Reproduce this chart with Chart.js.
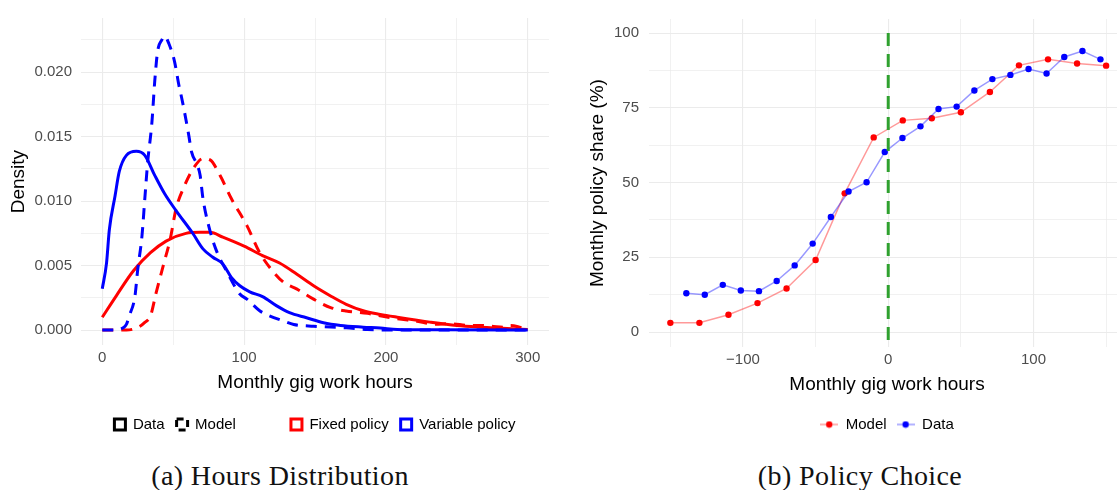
<!DOCTYPE html>
<html lang="en">
<head>
<meta charset="UTF-8" />
<title>Hours distribution and policy choice</title>
<script src="https://cdn.jsdelivr.net/npm/chart.js"></script>
<style>
  body { margin: 0; width: 1117px; height: 490px; background: #fff; position: relative; overflow: hidden; }
  .panel { position: absolute; top: 0; height: 450px; }
  .caption {
    position: absolute; top: 462px; width: 400px; text-align: center;
    font-family: "Liberation Serif", "DejaVu Serif", serif; font-size: 28px; line-height: 28px;
    letter-spacing: 0.4px; color: #111;
  }
</style>
</head>
<body>
<div class="panel" style="left:0;width:558px"><canvas id="hoursChart"></canvas></div>
<!-- the right panel runs a little past the page edge, as in the cropped original -->
<div class="panel" style="left:558px;width:579px"><canvas id="policyChart"></canvas></div>
<div class="caption" style="left:80px">(a) Hours Distribution</div>
<div class="caption" style="left:660px">(b) Policy Choice</div>
<script>
// ---- (a) hours distribution: density curves ----
const fixedDataHours = [0, 10, 22, 34, 45, 59, 69, 76, 85, 100, 113, 125, 137, 149, 161, 172, 184, 196, 208, 231, 250, 267, 300];
const fixedDataDensity = [0.00100, 0.00268, 0.00460, 0.00600, 0.00690, 0.00750, 0.00758, 0.00758, 0.00721, 0.00651, 0.00578, 0.00520, 0.00435, 0.00344, 0.00265, 0.00200, 0.00150, 0.00122, 0.00100, 0.00062, 0.00036, 0.00023, 0.00005];

const fixedModelHours = [0, 17, 26, 30, 34, 38, 43, 48, 52, 58, 64, 71, 76, 83, 91, 102, 111, 120, 128, 137, 149, 161, 172, 187, 194, 208, 222, 235, 245, 259, 267, 276, 283, 288, 295, 300];
const fixedModelDensity = [0, 0, 0.00026, 0.0006, 0.0011, 0.0029, 0.0050, 0.0071, 0.0094, 0.0112, 0.0125, 0.0133, 0.0132, 0.0120, 0.0102, 0.0081, 0.0060, 0.0046, 0.0037, 0.0032, 0.0024, 0.00175, 0.00148, 0.0013, 0.00115, 0.00089, 0.00068, 0.00045, 0.0005, 0.00036, 0.00036, 0.00028, 0.00023, 0.00036, 0.0002, 0.00005];

const variableDataHours = [0, 3, 5, 9, 12, 17, 24, 30, 37, 44, 52, 64, 71, 78, 85, 91, 97, 104, 113, 123, 132, 144, 156, 168, 184, 196, 208, 240, 300];
const variableDataDensity = [0.0032, 0.0052, 0.0078, 0.0104, 0.0123, 0.01355, 0.01386, 0.01355, 0.0120, 0.01057, 0.00927, 0.00747, 0.0063, 0.00565, 0.00513, 0.00409, 0.00344, 0.00297, 0.0026, 0.00188, 0.00135, 0.00096, 0.00057, 0.00036, 0.00023, 0.00016, 0.00005, 0.00002, 0];

const variableModelHours = [0, 8, 15, 17, 19, 23, 25, 28, 30, 32, 35, 37, 39, 42, 44, 47, 51, 54, 56, 58, 61, 63, 67, 69, 71, 75, 80, 88, 97, 102, 111, 116, 128, 135, 149, 172, 187, 210, 300];
const variableModelDensity = [0, 0, 0.0002, 0.00044, 0.0011, 0.0026, 0.0047, 0.0073, 0.0102, 0.0130, 0.0161, 0.0193, 0.0216, 0.0225, 0.0228, 0.0222, 0.0208, 0.0190, 0.0180, 0.0169, 0.0151, 0.0138, 0.0128, 0.0120, 0.0102, 0.0081, 0.0063, 0.0045, 0.0028, 0.0024, 0.0015, 0.0012, 0.0007, 0.00044, 0.0003, 0.00018, 0.00005, 0, 0];

// ---- (b) policy choice ----
const modelHours = [-150, -130, -110, -90, -70, -50, -30, -10, 10, 30, 50, 70, 90, 110, 130, 150];
const modelShare = [3.1, 3.1, 5.8, 9.7, 14.6, 24.1, 46.4, 65.1, 70.8, 71.5, 73.5, 80.3, 89.2, 91.2, 89.8, 89.1];
const dataHours = [-139, -126.3, -113.9, -101.5, -89, -76.8, -64.4, -52, -39.5, -27.3, -14.9, -2.4, 9.8, 22.2, 34.6, 47.1, 59.3, 71.7, 84.1, 96.6, 109, 121.2, 133.7, 146.1];
const dataShare = [13.0, 12.5, 15.8, 13.9, 13.7, 17.1, 22.3, 29.6, 38.5, 47.0, 50.1, 60.2, 64.9, 68.8, 74.6, 75.4, 80.8, 84.6, 86.0, 88.0, 86.5, 92.0, 94.0, 91.2];
const thresholdHours = 0;
const thresholdSpan = [100, -5]; // drawn top-down so the dash pattern starts at 100

const zip = (xs, ys) => xs.map((x, i) => ({ x: x, y: ys[i] }));
const isMultiple = (v, step) => Math.abs(v / step - Math.round(v / step)) < 1e-6;
const minus = v => (v < 0 ? "\u2212" + Math.abs(v) : String(v));

Chart.defaults.font.family = "'Liberation Sans', Arial, sans-serif";
Chart.defaults.font.size = 15;
Chart.defaults.color = "#4d4d4d";
Chart.defaults.animation = false;
Chart.defaults.plugins.tooltip.enabled = false;

const GRID = "#ebebeb";
const gridOpts = major => ({
  color: GRID,
  drawTicks: false,
  lineWidth: ctx => (ctx.tick && isMultiple(ctx.tick.value, major) ? 1.1 : 0.7),
});
const titleFont = { size: 19 };
const xTitlePad = { top: 0, bottom: 11 };

function curve(label, hours, dens, color, dashed) {
  return {
    label: label,
    data: zip(hours, dens),
    borderColor: color,
    borderWidth: 3,
    borderDash: dashed ? [11, 8] : [],
    pointRadius: 0,
    cubicInterpolationMode: "monotone",
    fill: false,
  };
}

const clear = "rgba(0,0,0,0)";
new Chart(document.getElementById("hoursChart"), {
  type: "line",
  data: {
    datasets: [
      curve("Variable policy model", variableModelHours, variableModelDensity, "#0000ff", true),
      curve("Variable policy data", variableDataHours, variableDataDensity, "#0000ff", false),
      curve("Fixed policy model", fixedModelHours, fixedModelDensity, "#ff0000", true),
      curve("Fixed policy data", fixedDataHours, fixedDataDensity, "#ff0000", false),
    ],
  },
  options: {
    responsive: true,
    maintainAspectRatio: false,
    layout: { autoPadding: false, padding: { top: 17, left: 0, right: 9, bottom: 8 } },
    scales: {
      x: {
        type: "linear",
        min: -15,
        max: 315,
        ticks: { stepSize: 50, includeBounds: false, padding: 4, maxRotation: 0, autoSkip: false, callback: v => (isMultiple(v, 100) ? String(v) : "") },
        grid: gridOpts(100),
        border: { display: false },
        title: { display: true, text: "Monthly gig work hours", color: "#000", font: titleFont, padding: xTitlePad },
      },
      y: {
        type: "linear",
        min: -0.00117,
        max: 0.0242,
        afterFit: s => { s.width = 81; },
        ticks: { stepSize: 0.0025, includeBounds: false, maxTicksLimit: 100, padding: 9, callback: v => (isMultiple(v, 0.005) ? v.toFixed(3) : "") },
        grid: gridOpts(0.005),
        border: { display: false },
        title: { display: true, text: "Density", color: "#000", font: titleFont, padding: { top: 7.6, bottom: 0 } },
      },
    },
    plugins: {
      legend: {
        position: "bottom",
        fullSize: false,
        onClick: () => {},
        labels: {
          color: "#000",
          padding: 12,
          boxWidth: 11,
          boxHeight: 11,
          generateLabels: () => [
            { text: "Data", fillStyle: clear, strokeStyle: "#000", lineWidth: 3, lineDash: [], hidden: false },
            { text: "Model", fillStyle: clear, strokeStyle: "#000", lineWidth: 3, lineDash: [7, 5], hidden: false },
            { text: "   ", fillStyle: clear, strokeStyle: clear, lineWidth: 0, hidden: false },
            { text: "Fixed policy", fillStyle: clear, strokeStyle: "#ff0000", lineWidth: 3, lineDash: [], hidden: false },
            { text: "Variable policy", fillStyle: clear, strokeStyle: "#0000ff", lineWidth: 3, lineDash: [], hidden: false },
          ],
        },
      },
    },
  },
});

// legend key: faint line with a dot on it
function keyGlyph(dot, line) {
  const c = document.createElement("canvas");
  c.width = 18;
  c.height = 8;
  const g = c.getContext("2d");
  g.strokeStyle = line;
  g.lineWidth = 1.5;
  g.beginPath();
  g.moveTo(0, 4);
  g.lineTo(18, 4);
  g.stroke();
  g.fillStyle = dot;
  g.beginPath();
  g.arc(9, 4, 3.2, 0, Math.PI * 2);
  g.fill();
  return c;
}

const redLine = "rgba(255,0,0,0.4)";
const blueLine = "rgba(0,0,255,0.4)";

new Chart(document.getElementById("policyChart"), {
  type: "line",
  data: {
    datasets: [
      {
        label: "threshold",
        data: zip([thresholdHours, thresholdHours], thresholdSpan),
        borderColor: "#2fa12f",
        borderWidth: 3,
        borderDash: [13, 8],
        pointRadius: 0,
      },
      {
        label: "Data",
        data: zip(dataHours, dataShare),
        borderColor: blueLine,
        borderWidth: 1.5,
        pointRadius: 3.2,
        pointBorderWidth: 0,
        pointBackgroundColor: "#0000ff",
        tension: 0,
      },
      {
        label: "Model",
        data: zip(modelHours, modelShare),
        borderColor: redLine,
        borderWidth: 1.5,
        pointRadius: 3.2,
        pointBorderWidth: 0,
        pointBackgroundColor: "#ff0000",
        tension: 0,
      },
    ],
  },
  options: {
    responsive: true,
    maintainAspectRatio: false,
    layout: { autoPadding: false, padding: { top: 17, left: 0, right: 12, bottom: 8 } },
    scales: {
      x: {
        type: "linear",
        min: -164.7,
        max: 163,
        ticks: { stepSize: 50, includeBounds: false, padding: 4, maxRotation: 0, autoSkip: false, callback: v => (isMultiple(v, 100) ? minus(v) : "") },
        grid: gridOpts(100),
        border: { display: false },
        title: { display: true, text: "Monthly gig work hours", color: "#000", font: titleFont, padding: xTitlePad },
      },
      y: {
        type: "linear",
        min: -5.05,
        max: 104.7,
        afterFit: s => { s.width = 91; },
        ticks: { stepSize: 12.5, includeBounds: false, padding: 10, callback: v => (isMultiple(v, 25) ? String(v) : "") },
        grid: gridOpts(25),
        border: { display: false },
        title: { display: true, text: "Monthly policy share (%)", color: "#000", font: titleFont, padding: { top: 28.6, bottom: 0 } },
      },
    },
    plugins: {
      legend: {
        position: "bottom",
        fullSize: false,
        onClick: () => {},
        labels: {
          color: "#000",
          padding: 10,
          usePointStyle: true,
          pointStyleWidth: 18,
          generateLabels: () => [
            { text: "Model", pointStyle: keyGlyph("#ff0000", redLine), fillStyle: "#ff0000", strokeStyle: clear, lineWidth: 0, hidden: false },
            { text: "Data", pointStyle: keyGlyph("#0000ff", blueLine), fillStyle: "#0000ff", strokeStyle: clear, lineWidth: 0, hidden: false },
          ],
        },
      },
    },
  },
});
</script>
</body>
</html>
